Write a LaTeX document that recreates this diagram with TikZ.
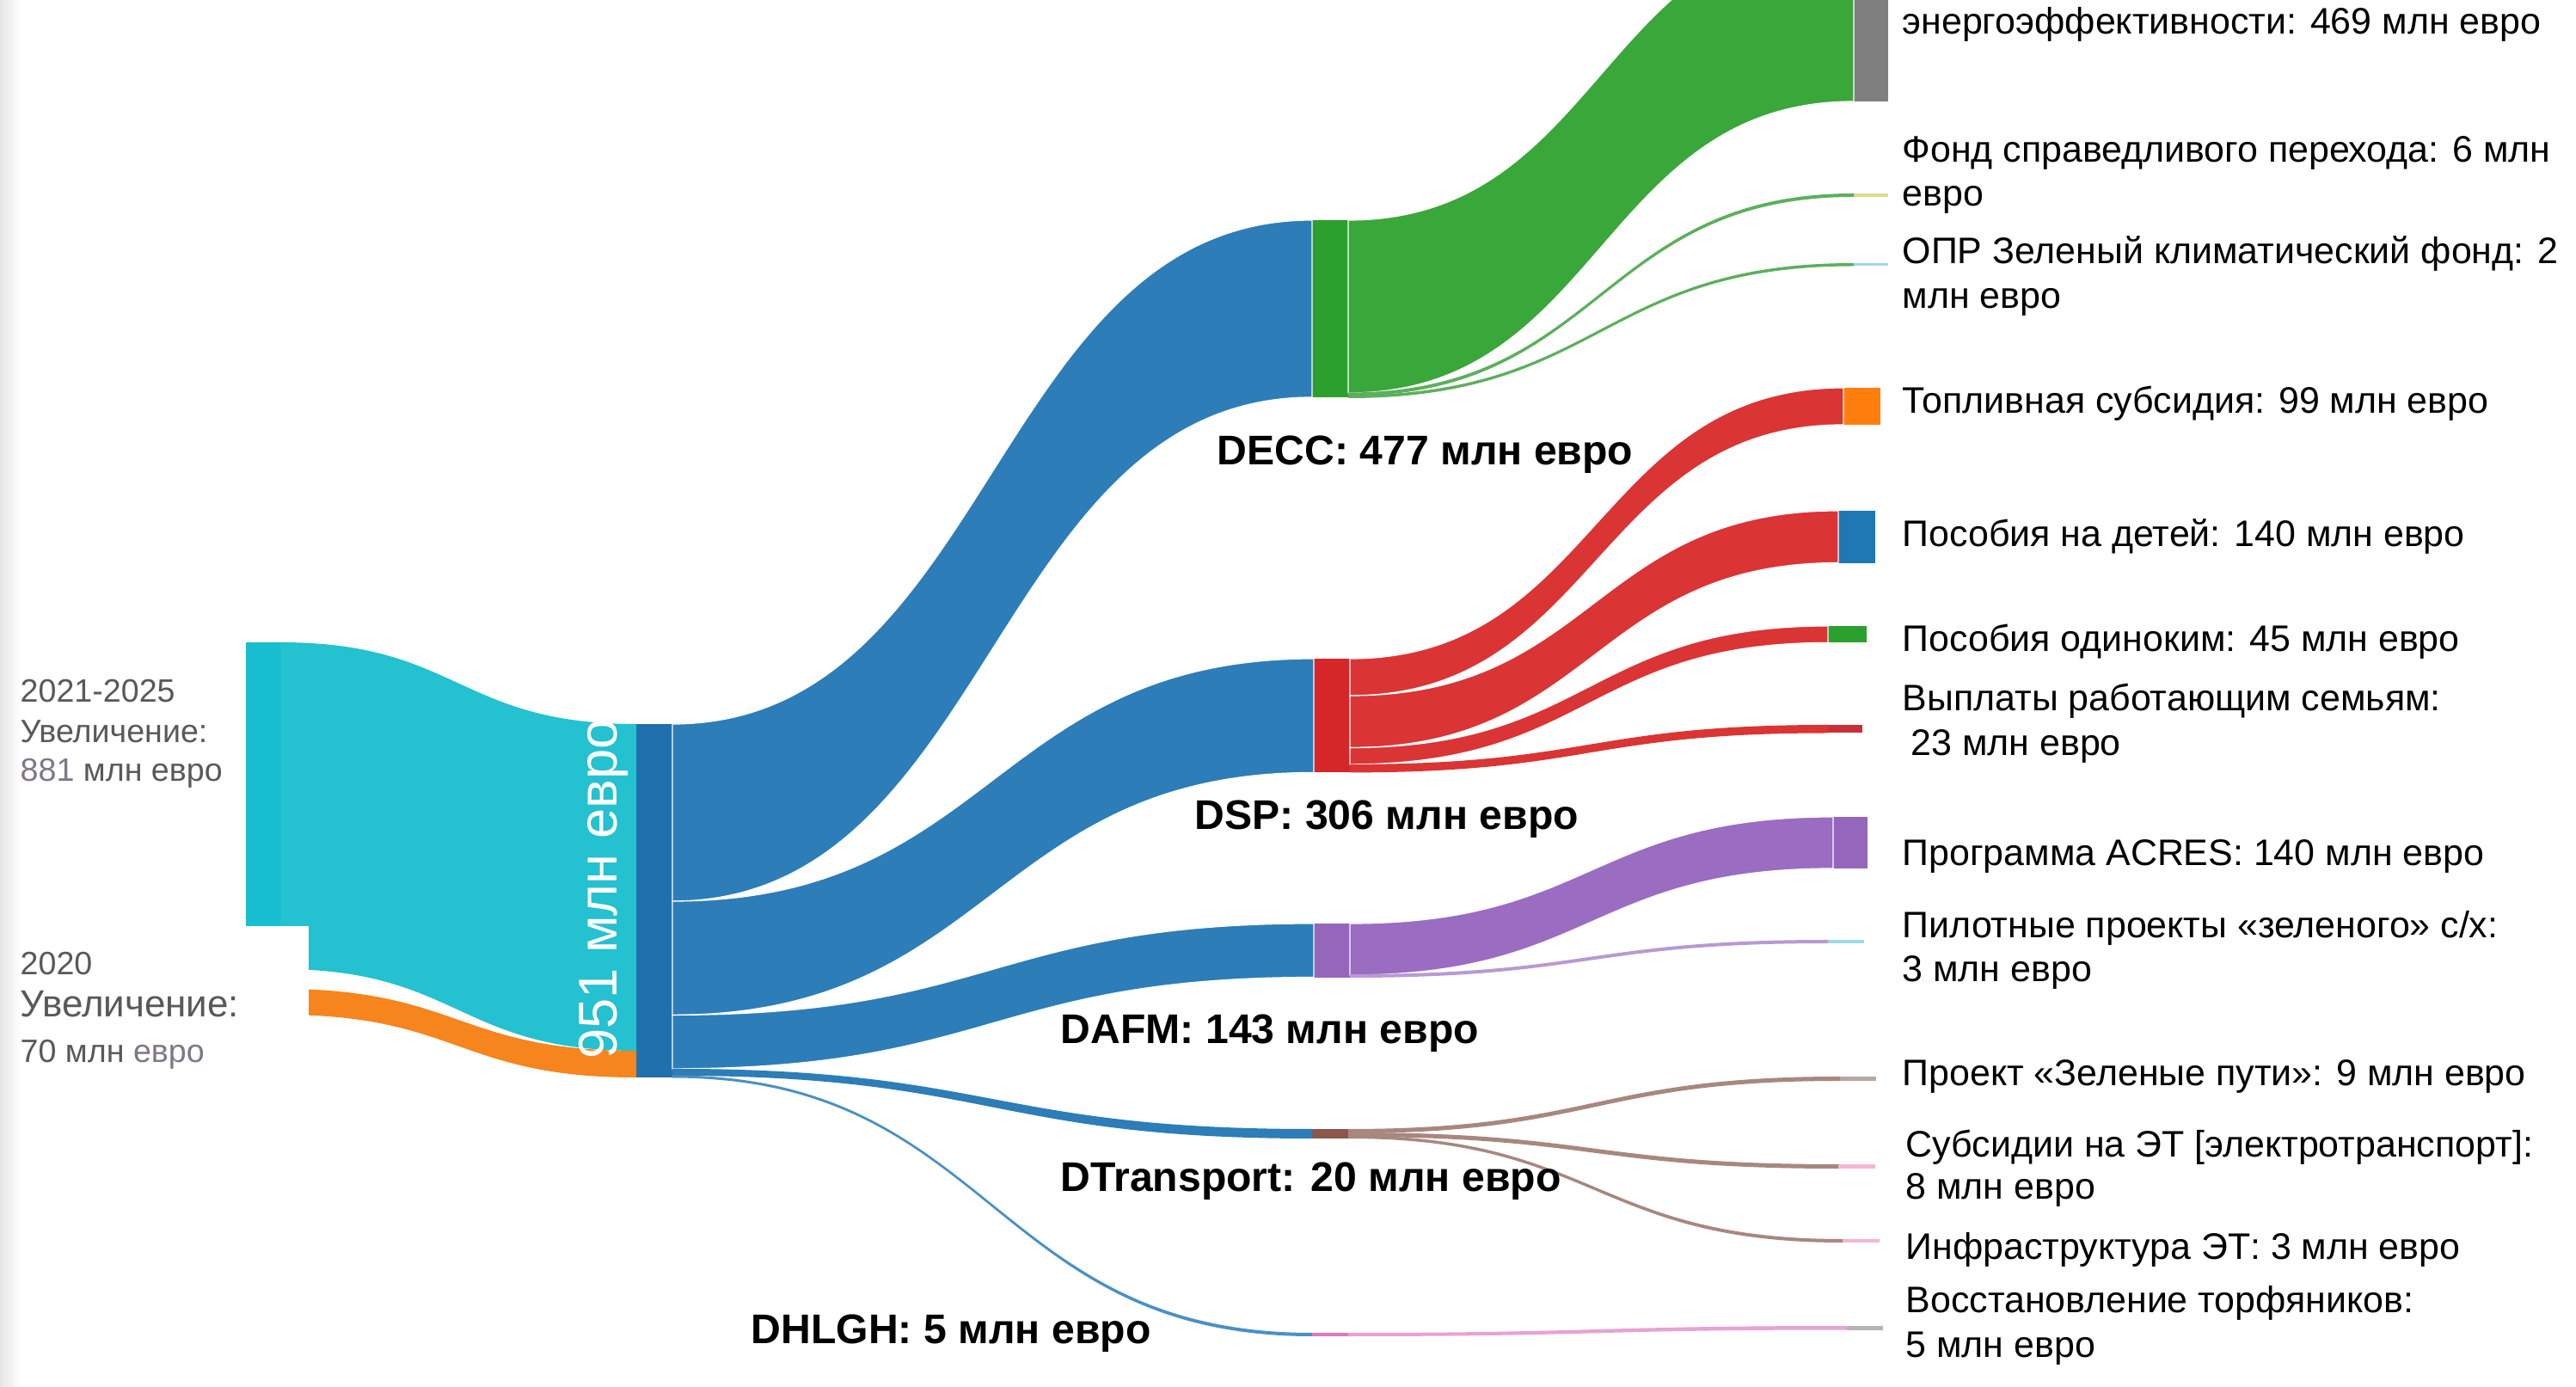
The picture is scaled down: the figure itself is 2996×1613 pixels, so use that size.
\documentclass[tikz,border=0pt]{standalone}
\usepackage{fontspec}
\setmainfont{Liberation Sans}
\usetikzlibrary{calc}
\definecolor{cynode}{HTML}{17BECF}
\definecolor{cyflow}{HTML}{24C1D0}
\definecolor{ornode}{HTML}{FF7F0E}
\definecolor{orflow}{HTML}{F5851C}
\definecolor{midnode}{HTML}{1F70AD}
\definecolor{bluflow}{HTML}{2C7DB8}
\definecolor{lbluflow}{HTML}{4A90C6}
\definecolor{grnode}{HTML}{2CA02C}
\definecolor{grflow}{HTML}{3AA73A}
\definecolor{lgrflow}{HTML}{5DAF5D}
\definecolor{rdnode}{HTML}{D62728}
\definecolor{rdflow}{HTML}{DA3434}
\definecolor{ppnode}{HTML}{9467BD}
\definecolor{ppflow}{HTML}{9A6CC2}
\definecolor{lppflow}{HTML}{B79AD3}
\definecolor{brnode}{HTML}{8C564B}
\definecolor{brflow}{HTML}{A8877F}
\definecolor{pknode}{HTML}{E377C2}
\definecolor{pkflow}{HTML}{E8A2D4}
\definecolor{graynode}{HTML}{7F7F7F}
\definecolor{bluenode}{HTML}{1F77B4}
\definecolor{jtcol}{HTML}{DBDB8D}
\definecolor{palecy}{HTML}{9EDAE5}
\definecolor{gwcol}{HTML}{B9A7A3}
\definecolor{palepk}{HTML}{F7B6D2}
\definecolor{peatcol}{HTML}{B5B5B5}
\definecolor{worknode}{HTML}{C9303A}
\definecolor{lefttxt}{HTML}{595959}
\definecolor{lighttxt}{HTML}{7E7888}
\tikzset{
  sk/.style={inner sep=0pt, outer sep=0pt, anchor=north west, draw=none},
  thick flow/.style={fill=#1, draw=white, line width=0.35pt},
  thin flow/.style={fill=#1},
  rlab/.style={font=\fontsize{12.2}{14.5}\selectfont, inner sep=0pt, anchor=base west, text=black},
  llab/.style={font=\fontsize{10.7}{13}\selectfont, inner sep=0pt, anchor=base west, text=lefttxt},
  blab/.style={font=\fontsize{13.7}{16}\selectfont\bfseries, inner sep=0pt, anchor=base west, text=black},
}
% node: name, x, y(top, px down), width, height, colour
\newcommand\sknode[6]{\node[sk, fill=#6, minimum width={#4*0.2845pt}, minimum height={#5*0.2845pt}] (#1) at (#2,-#3) {};}
% flow: src, src offset, src thickness, tgt, tgt offset, tgt thickness, style
\newcommand\skflow[7]{%
  \path ($(#1.north east)+(0,-#2)$) coordinate (fa)
        ($(#1.north east)+(0,-#2-#3)$) coordinate (fb)
        ($(#4.north west)+(0,-#5)$) coordinate (fc)
        ($(#4.north west)+(0,-#5-#6)$) coordinate (fd)
        ($(fa)!0.5!(fc)$) coordinate (fm);
  \path[#7] (fa) .. controls (fm|-fa) and (fm|-fc) .. (fc) -- (fd) .. controls (fm|-fd) and (fm|-fb) .. (fb) -- cycle;}
\begin{document}
\begin{tikzpicture}[x=0.01cm, y=0.01cm]
\useasboundingbox (0,0) rectangle (2996,-1613);
\clip (0,0) rectangle (2996,-1613);
\fill[white] (0,0) rectangle (2996,-1613);
\shade[left color=black!10, right color=white] (0,0) rectangle (24,-1613);

% ---- nodes ----
\sknode{s21}{286}{747}{40}{380}{cynode}
\sknode{s20}{286}{1150}{40}{30}{ornode}
\sknode{mid}{740}{842}{42}{411}{midnode}
\sknode{decc}{1526}{256}{42}{206}{grnode}
\sknode{dsp}{1528}{766}{42}{132.4}{rdnode}
\sknode{dafm}{1528}{1074}{42}{62.5}{ppnode}
\sknode{dtr}{1526}{1313}{42}{11}{brnode}
\sknode{dhl}{1526}{1550}{42}{4}{pknode}
\sknode{ee}{2156}{-83}{40}{201}{graynode}
\sknode{jt}{2156}{225}{40}{4}{jtcol}
\sknode{opr}{2156}{306}{40}{3.5}{palecy}
\sknode{fuel}{2144}{451}{43}{43}{ornode}
\sknode{child}{2138}{594}{43}{60.5}{bluenode}
\sknode{single}{2126}{728}{45}{19.4}{grnode}
\sknode{work}{2126}{843}{40}{9.5}{worknode}
\sknode{acres}{2132}{950}{40}{60}{ppnode}
\sknode{pilot}{2126}{1093}{42}{4}{palecy}
\sknode{gw}{2140}{1252}{42}{5}{gwcol}
\sknode{evs}{2138}{1354}{43}{5}{palepk}
\sknode{evi}{2143}{1441}{43}{4}{palepk}
\sknode{peat}{2148}{1542}{42}{4.5}{peatcol}

% ---- flows ----
\skflow{s21}{0}{380}{mid}{0}{380}{thin flow=cyflow}
\skflow{s20}{0}{30}{mid}{380}{31}{thin flow=orflow}
\skflow{mid}{0}{206}{decc}{0}{206}{thick flow=bluflow}
\skflow{mid}{206}{132.4}{dsp}{0}{132.4}{thick flow=bluflow}
\skflow{mid}{338.4}{62.5}{dafm}{0}{62.5}{thick flow=bluflow}
\skflow{mid}{400.9}{8}{dtr}{0}{11}{thin flow=bluflow}
\skflow{mid}{408.5}{3}{dhl}{0}{4}{thin flow=lbluflow}
\skflow{decc}{0}{201}{ee}{0}{201}{thick flow=grflow}
\skflow{decc}{200.5}{4}{jt}{0}{4}{thin flow=lgrflow}
\skflow{decc}{203.5}{3.5}{opr}{0}{3.5}{thin flow=lgrflow}
\skflow{dsp}{0}{43}{fuel}{0}{43}{thick flow=rdflow}
\skflow{dsp}{43}{60.5}{child}{0}{60.5}{thick flow=rdflow}
\skflow{dsp}{103.5}{19.4}{single}{0}{19.4}{thick flow=rdflow}
\skflow{dsp}{122.9}{9.5}{work}{0}{9.5}{thin flow=rdflow}
\skflow{dafm}{0}{60}{acres}{0}{60}{thick flow=ppflow}
\skflow{dafm}{59}{4}{pilot}{0}{4}{thin flow=lppflow}
\skflow{dtr}{0}{5}{gw}{0}{5}{thin flow=brflow}
\skflow{dtr}{4}{5}{evs}{0}{5}{thin flow=brflow}
\skflow{dtr}{7.5}{3.5}{evi}{0}{4}{thin flow=brflow}
\skflow{dhl}{0}{4}{peat}{0}{4.5}{thin flow=pkflow}

% white panel behind the 2020 label
\fill[white] (24,-1077) rectangle (359,-1613);

% ---- labels ----
\node[rotate=90, text=white, inner sep=0pt, font=\fontsize{18}{20}\selectfont] (tot) at (702,-1034) {951 млн евро};

\node[llab] (l21a) at (23,-817) {2021-2025};
\node[llab] (l21b) at (23,-864) {Увеличение:};
\node[llab] (l21c) at (23,-909) {\textcolor{lighttxt}{881} млн евро};
\node[llab] (l20a) at (23,-1134) {2020};
\node[llab, font=\fontsize{12.5}{15}\selectfont] (l20b) at (23,-1183) {Увеличение:};
\node[llab] (l20c) at (23,-1235) {70 млн \textcolor{lighttxt}{евро}};

\node[blab] (bdecc) at (1415,-541) {DECC: 477 млн евро};
\node[blab] (bdsp) at (1389,-965) {DSP: 306 млн евро};
\node[blab] (bdafm) at (1233,-1214) {DAFM: 143 млн евро};
\node[blab] (bdtr) at (1233,-1385) {DTransport: 20 млн евро};
\node[blab] (bdhl) at (873,-1562) {DHLGH: 5 млн евро};

\node[rlab] (tee) at (2212,-40) {энергоэффективности: 469 млн евро};
\node[rlab] (tjt1) at (2212,-189) {Фонд справедливого перехода: 6 млн};
\node[rlab] (tjt2) at (2212,-240) {евро};
\node[rlab] (topr1) at (2212,-307) {ОПР Зеленый климатический фонд: 2};
\node[rlab] (topr2) at (2212,-359) {млн евро};
\node[rlab] (tfuel) at (2212,-481) {Топливная субсидия: 99 млн евро};
\node[rlab] (tchild) at (2212,-636) {Пособия на детей: 140 млн евро};
\node[rlab] (tsingle) at (2212,-758) {Пособия одиноким: 45 млн евро};
\node[rlab] (twork1) at (2212,-827) {Выплаты работающим семьям:};
\node[rlab] (twork2) at (2222,-879) {23 млн евро};
\node[rlab] (tacres) at (2212,-1007) {Программа ACRES: 140 млн евро};
\node[rlab] (tpilot1) at (2212,-1091) {Пилотные проекты «зеленого» с/х:};
\node[rlab] (tpilot2) at (2212,-1142) {3 млн евро};
\node[rlab] (tgw) at (2212,-1263) {Проект «Зеленые пути»: 9 млн евро};
\node[rlab] (tevs1) at (2216,-1345) {Субсидии на ЭТ [электротранспорт]:};
\node[rlab] (tevs2) at (2216,-1394) {8 млн евро};
\node[rlab] (tevi) at (2216,-1465) {Инфраструктура ЭТ: 3 млн евро};
\node[rlab] (tpeat1) at (2216,-1526) {Восстановление торфяников:};
\node[rlab] (tpeat2) at (2216,-1578) {5 млн евро};
\end{tikzpicture}
\end{document}
